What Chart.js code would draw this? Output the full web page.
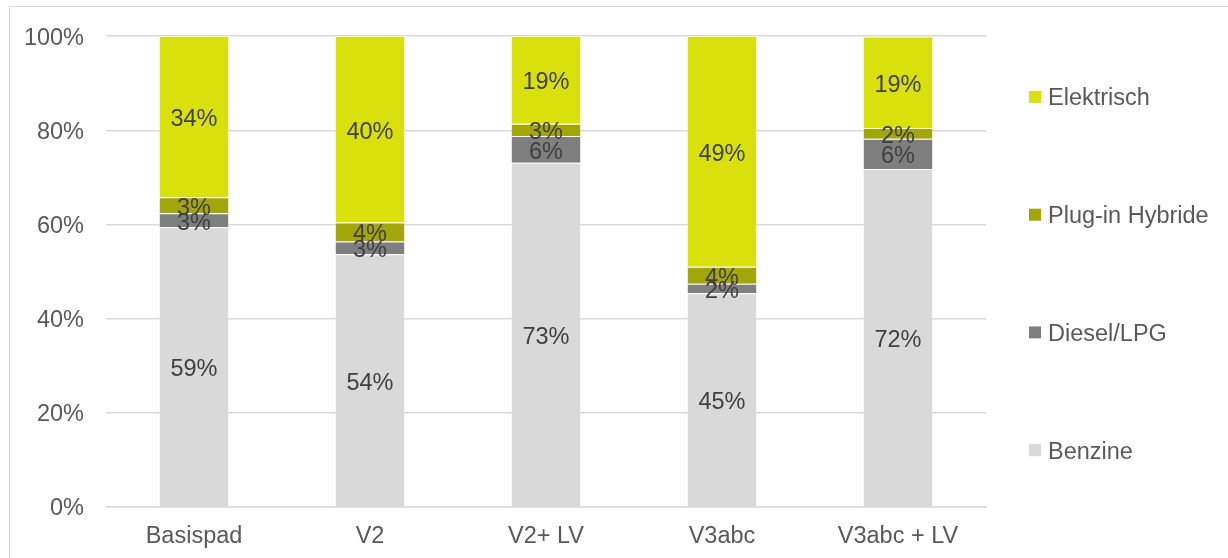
<!DOCTYPE html>
<html>
<head>
<meta charset="utf-8">
<script src="https://cdn.jsdelivr.net/npm/chart.js@4"></script>
<style>
    html, body { margin: 0; padding: 0; background: #fff; overflow: hidden; }
    #frame { position: absolute; left: 9px; top: 6px; width: 1400px; height: 700px; border: 1px solid #d9d9d9; box-sizing: border-box; }
    #wrap { position: absolute; left: 0; top: 0; width: 1228px; height: 558px; }
</style>
</head>
<body>
<div id="frame"></div>
<div id="wrap"><canvas id="chart"></canvas></div>
<script>
// === Data ===
const categories = ["Basispad", "V2", "V2+ LV", "V3abc", "V3abc + LV"];
const benzine    = [59.4, 53.7, 73.1, 45.4, 71.8];
const diesel     = [3.0, 2.7, 5.7, 2.0, 6.4];
const pluginHyb  = [3.4, 4.0, 2.6, 3.6, 2.3];
const elektrisch = [34.2, 39.6, 18.6, 49.0, 19.4];
const yTicks     = [0, 20, 40, 60, 80, 100];

const FONT = "'Liberation Sans', Arial, sans-serif";
const TEXT_GREY = "#595959";

// === Labels in het midden van elk segment ===
const segmentLabels = {
    id: "segmentLabels",
    afterDatasetsDraw(chart) {
        const ctx = chart.ctx;
        ctx.save();
        ctx.font = "23.5px " + FONT;
        ctx.fillStyle = "#404040";
        ctx.textAlign = "center";
        ctx.textBaseline = "middle";
        chart.data.datasets.forEach((ds, di) => {
            chart.getDatasetMeta(di).data.forEach((bar, i) => {
                const cy = (bar.y + bar.base) / 2;
                ctx.fillText(Math.round(ds.data[i]) + "%", bar.x, cy + 3);
            });
        });
        ctx.restore();
    }
};

// === Legenda rechts, gelijk verdeeld over de hoogte ===
const sideLegend = {
    id: "sideLegend",
    afterDraw(chart) {
        const ctx = chart.ctx;
        const area = chart.chartArea;
        const items = chart.data.datasets.slice().reverse();
        const h = area.bottom - area.top;
        ctx.save();
        ctx.font = "23.5px " + FONT;
        ctx.textBaseline = "middle";
        items.forEach((ds, i) => {
            const cy = area.top + h * (i + 0.5) / items.length + 2;
            ctx.fillStyle = ds.backgroundColor;
            ctx.fillRect(area.right + 43, cy - 6, 12, 12);
            ctx.fillStyle = TEXT_GREY;
            ctx.fillText(ds.label, area.right + 62, cy + 2);
        });
        ctx.restore();
    }
};

function makeSet(label, data, color) {
    return {
        label,
        data,
        backgroundColor: color,
        borderColor: "rgba(255,255,255,0.35)",
        borderWidth: 1,
        barPercentage: 0.4,
        categoryPercentage: 1
    };
}

const ctx = document.getElementById("chart").getContext("2d");
new Chart(ctx, {
    type: "bar",
    data: {
        labels: categories,
        datasets: [
            makeSet("Benzine", benzine, "#d9d9d9"),
            makeSet("Diesel/LPG", diesel, "#7f7f7f"),
            makeSet("Plug-in Hybride", pluginHyb, "#a3a60a"),
            makeSet("Elektrisch", elektrisch, "#d9e00c")
        ]
    },
    options: {
        responsive: true,
        maintainAspectRatio: false,
        animation: false,
        layout: { padding: { top: 36, right: 242, left: 0, bottom: 0 } },
        plugins: {
            legend: { display: false },
            tooltip: { enabled: false }
        },
        scales: {
            x: {
                stacked: true,
                grid: { display: false, drawTicks: false },
                border: { color: "#d9d9d9", width: 1.5 },
                ticks: { color: TEXT_GREY, font: { family: FONT, size: 23.5 }, padding: 15, maxRotation: 0 },
                afterFit: s => { s.height = 51; }
            },
            y: {
                stacked: true,
                min: 0,
                max: 100,
                afterBuildTicks: s => { s.ticks = yTicks.map(v => ({ value: v })); },
                grid: { color: "#d9d9d9", lineWidth: 1.5, drawTicks: false },
                border: { display: false },
                ticks: {
                    color: TEXT_GREY,
                    font: { family: FONT, size: 23.5 },
                    padding: 22,
                    labelOffset: 2,
                    callback: v => v + "%"
                },
                afterFit: s => { s.width = 106; }
            }
        }
    },
    plugins: [segmentLabels, sideLegend]
});
</script>
</body>
</html>
